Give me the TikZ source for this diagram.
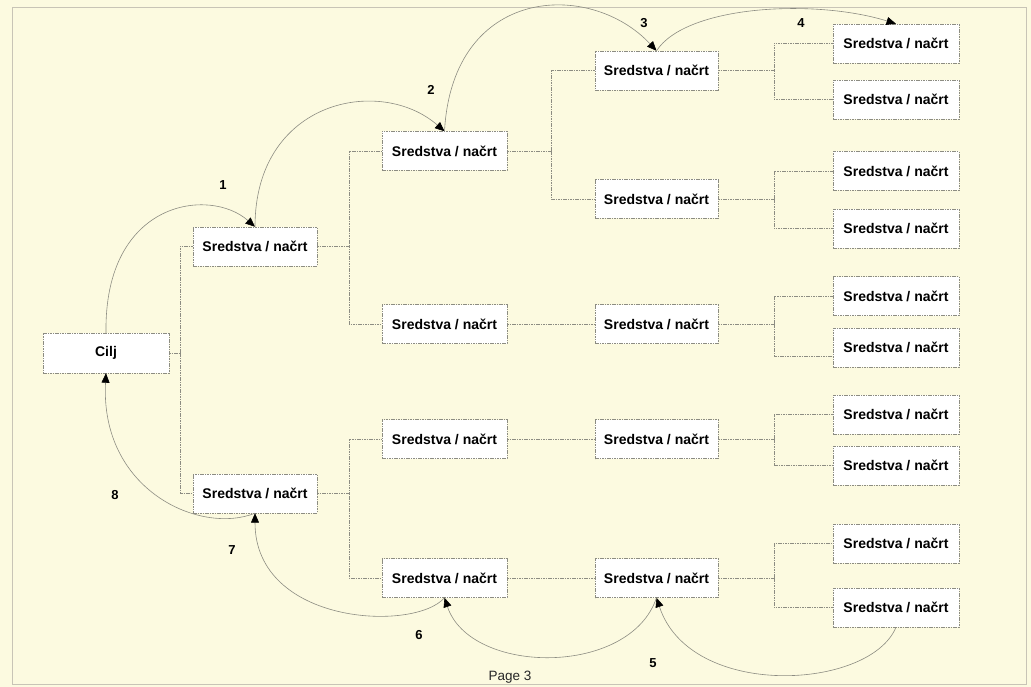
\documentclass[tikz,border=0pt]{standalone}
\usepackage{fontspec}
\setmainfont{Liberation Sans}
\usetikzlibrary{arrows.meta}
\definecolor{paper}{RGB}{252,250,224}
\definecolor{framec}{RGB}{200,196,182}
\definecolor{linec}{RGB}{140,140,130}
\begin{document}
\begin{tikzpicture}[x=1pt,y=-1pt,
  box/.style={draw=linec, dash pattern=on 1.6pt off 0.8pt, fill=white, minimum width=125pt, minimum height=39pt,
    inner sep=0pt, font=\fontsize{14}{16}\selectfont\bfseries, text=black},
  link/.style={draw=linec, dash pattern=on 1.6pt off 0.8pt, line width=0.5pt},
  flow/.style={draw=linec, line width=0.6pt, -{Triangle[length=9.5pt,width=8pt,color=black]}},
  num/.style={font=\fontsize{13}{15}\selectfont\bfseries, text=black}
]
\fill[paper] (0,0) rectangle (1031,687);
\useasboundingbox (0,0) rectangle (1031,687);
\draw[framec, line width=0.6pt] (12,7) rectangle (1026,684);

% nodes
\node[box, minimum width=126pt, minimum height=40pt] (cilj) at (106,353) {Cilj};
\node[box, minimum width=124pt] (l1a) at (255,246.5) {Sredstva / načrt};
\node[box, minimum width=124pt] (l1b) at (255,493.5) {Sredstva / načrt};

\node[box] (l2a) at (444.5,151) {Sredstva / načrt};
\node[box] (l2b) at (444.5,324) {Sredstva / načrt};
\node[box] (l2c) at (444.5,439) {Sredstva / načrt};
\node[box] (l2d) at (444.5,578) {Sredstva / načrt};

\node[box, minimum width=123pt] (l3a) at (656.5,70.5) {Sredstva / načrt};
\node[box, minimum width=123pt] (l3b) at (656.5,199) {Sredstva / načrt};
\node[box, minimum width=123pt] (l3c) at (656.5,324) {Sredstva / načrt};
\node[box, minimum width=123pt] (l3d) at (656.5,439) {Sredstva / načrt};
\node[box, minimum width=123pt] (l3e) at (656.5,578) {Sredstva / načrt};

\node[box, minimum width=126pt] (l4a) at (896,43.5) {Sredstva / načrt};
\node[box, minimum width=126pt] (l4b) at (896,99.5) {Sredstva / načrt};
\node[box, minimum width=126pt] (l4c) at (896,171) {Sredstva / načrt};
\node[box, minimum width=126pt] (l4d) at (896,228.5) {Sredstva / načrt};
\node[box, minimum width=126pt] (l4e) at (896,296) {Sredstva / načrt};
\node[box, minimum width=126pt] (l4f) at (896,347.5) {Sredstva / načrt};
\node[box, minimum width=126pt] (l4g) at (896,414.5) {Sredstva / načrt};
\node[box, minimum width=126pt] (l4h) at (896,465.5) {Sredstva / načrt};
\node[box, minimum width=126pt] (l4i) at (896,543.5) {Sredstva / načrt};
\node[box, minimum width=126pt] (l4j) at (896,607.5) {Sredstva / načrt};

% junctions
\coordinate (j0) at (180,353);
\coordinate (j1) at (349,246.5);
\coordinate (j2) at (349,493.5);
\coordinate (j3) at (551,151);
\coordinate (j4) at (774,70.5);
\coordinate (j5) at (774,199);
\coordinate (j6) at (774,324);
\coordinate (j7) at (774,439);
\coordinate (j8) at (774,578);

% tree connectors
\draw[link] (cilj.east) -- (j0);
\draw[link] (j0) |- (l1a.west);
\draw[link] (j0) |- (l1b.west);
\draw[link] (l1a.east) -- (j1);
\draw[link] (j1) |- (l2a.west);
\draw[link] (j1) |- (l2b.west);
\draw[link] (l1b.east) -- (j2);
\draw[link] (j2) |- (l2c.west);
\draw[link] (j2) |- (l2d.west);
\draw[link] (l2a.east) -- (j3);
\draw[link] (j3) |- (l3a.west);
\draw[link] (j3) |- (l3b.west);
\draw[link] (l2b.east) -- (l3c.west);
\draw[link] (l2c.east) -- (l3d.west);
\draw[link] (l2d.east) -- (l3e.west);
\draw[link] (l3a.east) -- (j4);
\draw[link] (j4) |- (l4a.west);
\draw[link] (j4) |- (l4b.west);
\draw[link] (l3b.east) -- (j5);
\draw[link] (j5) |- (l4c.west);
\draw[link] (j5) |- (l4d.west);
\draw[link] (l3c.east) -- (j6);
\draw[link] (j6) |- (l4e.west);
\draw[link] (j6) |- ([yshift=-9pt]l4f.west);
\draw[link] (l3d.east) -- (j7);
\draw[link] (j7) |- (l4g.west);
\draw[link] (j7) |- (l4h.west);
\draw[link] (l3e.east) -- (j8);
\draw[link] (j8) |- (l4i.west);
\draw[link] (j8) |- (l4j.west);

% process arcs
\draw[flow] (cilj.north) .. controls +(-2,-133) and +(-45,-40) .. (l1a.north);
\draw[flow] (l1a.north) .. controls +(0,-127) and +(-64,-56) .. (l2a.north);
\draw[flow] (l2a.north) .. controls +(8,-146) and +(-66,-71) .. (l3a.north);
\draw[flow] (l3a.north) .. controls +(30,-46) and +(-80,-25) .. (l4a.north);
\draw[flow] (l4j.south) .. controls +(-26,63) and +(33.5,102.5) .. (l3e.south);
\draw[flow] (l3e.south) .. controls +(-26.5,79.5) and +(25.5,77.5) .. (l2d.south);
\draw[flow] (l2d.south) .. controls +(-29.5,34.5) and +(0,112) .. (l1b.south);
\draw[flow] (l1b.south) .. controls +(-55,22) and +(-6,117) .. (cilj.south);

% labels
\node[num] (n1) at (223,185) {1};
\node[num] (n2) at (431,90) {2};
\node[num] (n3) at (644,23) {3};
\node[num] (n4) at (801,23) {4};
\node[num] (n5) at (653,663) {5};
\node[num] (n6) at (419,635) {6};
\node[num] (n7) at (232,550) {7};
\node[num] (n8) at (115,495) {8};
\node[font=\fontsize{13.5}{15}\selectfont, text=black!85] (page) at (510,677) {Page 3};
\end{tikzpicture}
\end{document}
